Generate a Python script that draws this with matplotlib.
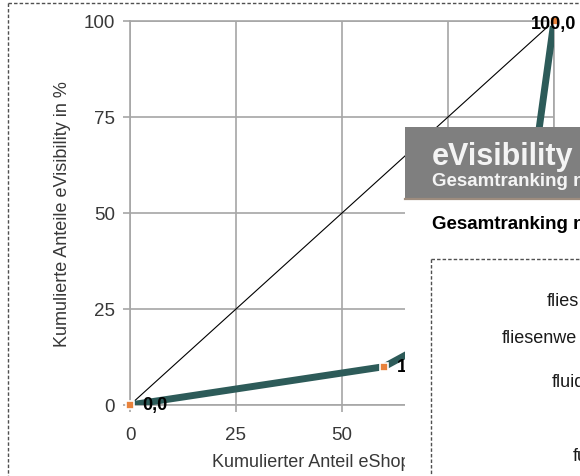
import matplotlib
matplotlib.use("Agg")
import matplotlib.pyplot as plt
from matplotlib.patches import Rectangle
from matplotlib.lines import Line2D

plt.rcParams['font.family'] = ['Liberation Sans', 'DejaVu Sans']

# Data (cumulative shares, %)
x_shops = [0, 60, 80, 90, 95, 100]
y_vis = [0, 10, 22, 35, 60, 100]
point_labels = {0: "0,0", 1: "10,0", 5: "100,0"}
ticks = [0, 25, 50, 75, 100]
x_label = "Kumulierter Anteil eShops in %"
y_label = "Kumulierte Anteile eVisibility in %"
panel_title = "eVisibility"
panel_sub = "Gesamtranking n"
panel_head = "Gesamtranking n"
list_items = ["flies", "fliesenwe", "fluid", "fu"]

W, H = 580, 477
fig = plt.figure(figsize=(W / 100, H / 100), dpi=100)
fig.patch.set_facecolor('white')

def fx(px):
    return px / W

def fy(py):
    return 1 - py / H

ax = fig.add_axes([fx(130), fy(406), (554 - 130) / W, (406 - 22) / H])
ax.set_xlim(0, 100)
ax.set_ylim(0, 100)
ax.set_xticks(ticks)
ax.set_yticks(ticks)
grid_c = '#a6a6a6'
ax.grid(True, color=grid_c, lw=1.2)
ax.set_axisbelow(True)
for s in ax.spines.values():
    s.set_color(grid_c)
    s.set_linewidth(1.2)
ax.tick_params(axis='both', colors=grid_c, labelcolor='#383838', labelsize=13.5,
               length=5, width=1.2)
ax.tick_params(axis='x', pad=10)
ax.tick_params(axis='y', pad=6)

ax.plot([0, 100], [0, 100], color='black', lw=0.8, zorder=3)
ax.plot(x_shops, y_vis, color='#2d5b59', lw=5, solid_capstyle='butt',
        solid_joinstyle='miter', zorder=4)
ax.plot(x_shops, y_vis, 's', color='#e8823c', ms=6, mec='white', mew=1.2,
        zorder=5, clip_on=False)

for i, lab in point_labels.items():
    if i == len(x_shops) - 1:
        ax.annotate(lab, (x_shops[i], y_vis[i]), xytext=(0, -2),
                    textcoords='offset points', ha='center', va='center',
                    fontsize=13, fontweight='bold', color='black', zorder=6,
                    annotation_clip=False)
    else:
        ax.annotate(lab, (x_shops[i], y_vis[i]), xytext=(9, 0),
                    textcoords='offset points', ha='left', va='center',
                    fontsize=13, fontweight='bold', color='black', zorder=6)

ax.set_xlabel(x_label, fontsize=13, color='#383838')
ax.xaxis.set_label_coords(0.486, -0.146)
ax.xaxis.label.set_va('center')
ax.set_ylabel(y_label, fontsize=13, color='#383838')
ax.yaxis.set_label_coords(-0.16, 0.5)
ax.yaxis.label.set_va('center')

# outer dashed frame
dash = (0, (2.5, 1.5))
fig.add_artist(Line2D([fx(8), fx(8)], [fy(4), 0], transform=fig.transFigure,
                      color='#505050', lw=1, ls=dash))
fig.add_artist(Line2D([fx(8), 1], [fy(4), fy(4)], transform=fig.transFigure,
                      color='#505050', lw=1, ls=dash))

# overlay panel
fig.add_artist(Rectangle((fx(405), 0), 1 - fx(405), fy(200), transform=fig.transFigure,
                         facecolor='white', edgecolor='none', zorder=10))
fig.add_artist(Rectangle((fx(405), fy(200)), 1 - fx(405), fy(128) - fy(200),
                         transform=fig.transFigure, facecolor='#7f7f7f',
                         edgecolor='none', zorder=11))
fig.add_artist(Line2D([fx(405), 1], [fy(200), fy(200)], transform=fig.transFigure,
                      color='#9d8c7e', lw=1.6, zorder=12))
fig.text(fx(432), fy(165), panel_title, fontsize=22, fontweight='bold',
         color='#f4f4f4', ha='left', va='baseline', zorder=13)
fig.text(fx(432), fy(186), panel_sub, fontsize=13.5, fontweight='bold',
         color='#f4f4f4', ha='left', va='baseline', zorder=13)
fig.text(fx(432), fy(229), panel_head, fontsize=13.5, fontweight='bold',
         color='black', ha='left', va='baseline', zorder=13)

fig.add_artist(Line2D([fx(431), fx(431)], [fy(260), 0], transform=fig.transFigure,
                      color='#505050', lw=1, ls=dash, zorder=12))
fig.add_artist(Line2D([fx(431), 1], [fy(260), fy(260)], transform=fig.transFigure,
                      color='#505050', lw=1, ls=dash, zorder=12))

item_pos = [(547, 301), (502, 339), (552, 383), (573, 457)]
for (px, py), t in zip(item_pos, list_items):
    fig.text(fx(px), fy(py), t, fontsize=13, color='#1a1a1a', ha='left',
             va='center', zorder=13)

fig.savefig('out.png', dpi=100)
